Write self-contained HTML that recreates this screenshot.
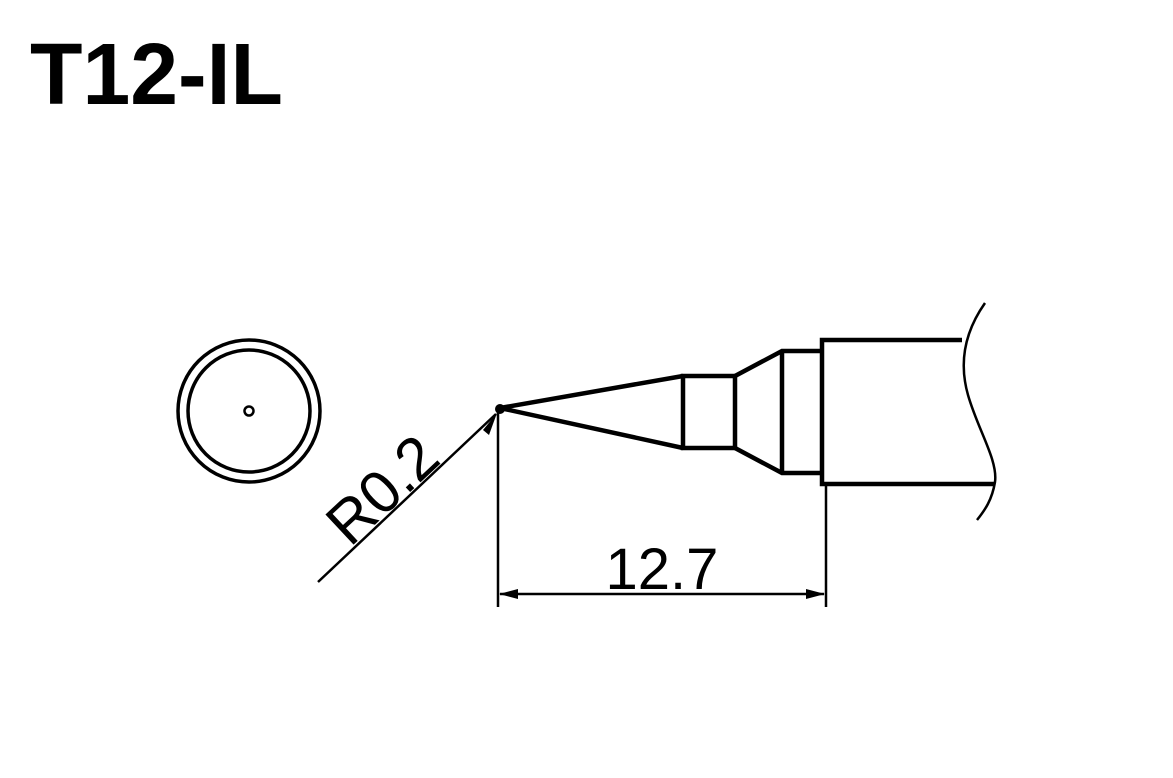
<!DOCTYPE html>
<html><head><style>html,body{margin:0;padding:0;background:#fff;}</style></head>
<body>
<svg width="1173" height="773" viewBox="0 0 1173 773" xmlns="http://www.w3.org/2000/svg">
<rect width="1173" height="773" fill="#fff"/>
<text x="30" y="104" font-family="Liberation Sans, sans-serif" font-weight="bold" font-size="87" textLength="253" lengthAdjust="spacingAndGlyphs">T12-IL</text>
<g fill="none" stroke="#000">
<circle cx="249" cy="411" r="71" stroke-width="3.5"/>
<circle cx="249" cy="411" r="61" stroke-width="3.5"/>
<circle cx="249" cy="411" r="4.5" stroke-width="2.5"/>
<g stroke-width="4.5" stroke-linejoin="miter">
<polyline points="683,376 500,408 683,448"/>
<rect x="683" y="376" width="52" height="72"/>
<polyline points="735,376 782,351 822,351"/>
<polyline points="735,448 782,473 822,473"/>
<line x1="782" y1="351" x2="782" y2="473"/>
<polyline points="962,340 822,340 822,484 995,484"/>
</g>
<path d="M985,303 C966,330 958,360 968,395 C978,430 998,460 995,482 C992,500 985,510 977,520" stroke-width="2.5"/>
<g stroke-width="2.5">
<line x1="498" y1="412" x2="498" y2="607"/>
<line x1="826" y1="486" x2="826" y2="607"/>
<line x1="500" y1="594" x2="824" y2="594"/>
<line x1="318" y1="582" x2="496" y2="414"/>
</g>
</g>
<circle cx="500" cy="409" r="5" fill="#000"/>
<polygon points="499,594 518,589 518,599" fill="#000"/>
<polygon points="825,594 806,589 806,599" fill="#000"/>
<polygon points="497,413 483,430 489,435" fill="#000"/>
<text x="662" y="589" text-anchor="middle" font-family="Liberation Sans, sans-serif" font-size="58">12.7</text>
<text transform="translate(350,548) rotate(-43)" font-family="Liberation Sans, sans-serif" font-size="60">R0.2</text>
</svg>
</body></html>
